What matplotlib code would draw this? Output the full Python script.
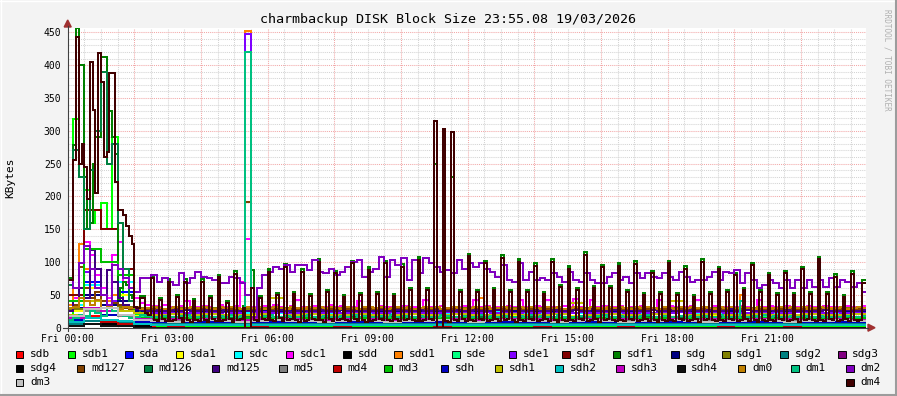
import numpy as np
import matplotlib
matplotlib.use("Agg")
import matplotlib.pyplot as plt
from matplotlib.patches import Rectangle, Polygon
from matplotlib.lines import Line2D

# ---- data (KBytes), 5-min steps (288), 10-min steps (144), 30-min steps (48) ----
dm4 = [72, 72, 255, 443, 250, 280, 245, 196, 405, 332, 205, 418,
       375, 260, 268, 388, 388, 222, 180, 180, 172, 155, 140, 128,
       32, 30, 45, 45, 22, 20, 75, 12, 10, 42, 14, 10,
       70, 10, 12, 47, 15, 9, 70, 11, 8, 40, 12, 10,
       70, 12, 9, 45, 14, 10, 77, 10, 12, 38, 13, 9,
       82, 11, 14, 30, 0, 0, 60, 12, 10, 45, 14, 11,
       85, 12, 10, 50, 15, 10, 93, 11, 13, 52, 12, 9,
       85, 10, 12, 48, 14, 11, 100, 12, 9, 55, 13, 10,
       83, 11, 14, 47, 12, 10, 98, 13, 10, 50, 11, 9,
       88, 10, 12, 52, 14, 11, 98, 12, 10, 48, 13, 10,
       93, 11, 13, 57, 12, 10, 103, 10, 12, 57, 14, 11,
       315, 0, 0, 303, 10, 8, 298, 12, 10, 55, 13, 10,
       109, 12, 10, 55, 14, 11, 98, 10, 12, 58, 13, 10,
       106, 11, 13, 55, 12, 9, 100, 12, 10, 55, 14, 11,
       94, 10, 12, 52, 13, 10, 100, 11, 9, 62, 12, 10,
       90, 12, 10, 57, 14, 11, 111, 10, 12, 60, 13, 9,
       92, 11, 13, 60, 12, 10, 94, 12, 10, 55, 14, 11,
       97, 10, 12, 50, 13, 10, 83, 11, 9, 52, 12, 10,
       98, 12, 10, 50, 14, 11, 90, 10, 12, 47, 13, 9,
       100, 11, 13, 52, 12, 10, 89, 12, 10, 55, 14, 11,
       80, 10, 12, 57, 13, 10, 95, 11, 9, 55, 12, 10,
       80, 12, 10, 50, 14, 11, 83, 10, 12, 50, 13, 9,
       89, 11, 13, 51, 12, 10, 104, 12, 10, 52, 14, 11,
       78, 10, 12, 47, 13, 10, 82, 11, 10, 12, 68, 68]

sdf1 = [75, 75, 278, 456, 400, 400, 230, 150, 160, 250, 290, 290,
        412, 412, 270, 330, 290, 265, 40, 60, 70, 65, 50, 45,
        28, 25, 48, 48, 20, 18, 79, 10, 8, 45, 12, 8,
        74, 8, 10, 50, 13, 7, 74, 9, 6, 43, 10, 8,
        74, 10, 7, 48, 12, 8, 81, 8, 10, 41, 11, 7,
        86, 9, 12, 33, 0, 0, 88, 10, 8, 48, 12, 9,
        89, 10, 8, 53, 13, 8, 97, 9, 11, 55, 10, 7,
        89, 8, 10, 51, 12, 9, 104, 10, 7, 58, 11, 8,
        87, 9, 12, 50, 10, 8, 102, 11, 8, 53, 9, 7,
        92, 8, 10, 55, 12, 9, 102, 10, 8, 51, 11, 8,
        97, 9, 11, 60, 10, 8, 107, 8, 10, 60, 12, 9,
        250, 0, 0, 240, 8, 6, 230, 10, 8, 58, 11, 8,
        113, 10, 8, 58, 12, 9, 102, 8, 10, 61, 11, 8,
        110, 9, 11, 58, 10, 7, 104, 10, 8, 58, 12, 9,
        98, 8, 10, 55, 11, 8, 104, 9, 7, 65, 10, 8,
        94, 10, 8, 60, 12, 9, 115, 8, 10, 63, 11, 7,
        96, 9, 11, 63, 10, 8, 98, 10, 8, 58, 12, 9,
        101, 8, 10, 53, 11, 8, 87, 9, 7, 55, 10, 8,
        102, 10, 8, 53, 12, 9, 94, 8, 10, 50, 11, 7,
        104, 9, 11, 55, 10, 8, 93, 10, 8, 58, 12, 9,
        84, 8, 10, 60, 11, 8, 99, 9, 7, 58, 10, 8,
        84, 10, 8, 53, 12, 9, 87, 8, 10, 53, 11, 7,
        93, 9, 11, 54, 10, 8, 108, 10, 8, 55, 12, 9,
        82, 8, 10, 50, 11, 8, 86, 9, 8, 10, 72, 72]

dm2 = [72, 60, 98, 125, 90, 60,
       50, 35, 95, 90, 75, 60,
       55, 75, 75, 80, 70, 75,
       70, 65, 83, 68, 75, 85,
       78, 75, 73, 68, 68, 78,
       75, 68, 50, 17, 60, 80,
       85, 93, 90, 95, 85, 95,
       95, 88, 103, 85, 83, 90,
       80, 85, 93, 100, 103, 78,
       85, 90, 108, 78, 103, 95,
       106, 73, 103, 83, 106, 98,
       93, 85, 88, 83, 103, 90,
       98, 93, 98, 90, 85, 78,
       95, 73, 70, 98, 73, 85,
       73, 75, 73, 83, 78, 70,
       85, 73, 70, 83, 73, 68,
       68, 78, 83, 73, 78, 68,
       83, 75, 83, 78, 75, 83,
       78, 73, 85, 78, 70, 73,
       73, 78, 85, 73, 85, 83,
       88, 68, 83, 73, 60, 65,
       73, 68, 60, 73, 60, 73,
       60, 73, 62, 73, 62, 75,
       62, 73, 70, 62, 68, 55]

dm1 = [12, 15, 20, 18, 25, 22,
       18, 30, 25, 20, 18, 15,
       17, 20, 18, 17, 16, 18,
       17, 16, 18, 19, 17, 16,
       18, 17, 16, 18, 17, 19,
       17, 18, 420, 16, 17, 18,
       19, 17, 16, 18, 17, 16,
       18, 19, 17, 16, 18, 17,
       16, 18, 17, 19, 16, 18,
       17, 16, 18, 17, 19, 17,
       18, 17, 16, 18, 17, 16,
       17, 19, 18, 16, 17, 18,
       16, 17, 19, 17, 18, 16,
       18, 16, 17, 18, 16, 19,
       17, 18, 16, 17, 19, 17,
       16, 17, 18, 16, 17, 18,
       19, 17, 16, 18, 17, 16,
       17, 18, 19, 17, 16, 18,
       16, 17, 18, 16, 18, 17,
       18, 16, 17, 19, 17, 16,
       17, 40, 16, 18, 17, 19,
       16, 18, 17, 16, 18, 17,
       18, 17, 16, 18, 17, 16,
       17, 16, 18, 17, 16, 18]

dm0 = [30, 32, 45, 40, 35, 42,
       30, 33, 30, 28, 32, 30,
       31, 29, 30, 31, 30, 29,
       30, 31, 29, 30, 32, 30,
       31, 30, 29, 31, 30, 32,
       30, 29, 31, 30, 31, 29,
       30, 32, 30, 29, 31, 30,
       29, 31, 30, 32, 30, 31,
       30, 29, 31, 30, 29, 31,
       32, 30, 31, 29, 30, 31,
       30, 31, 29, 30, 32, 30,
       31, 29, 30, 31, 30, 29,
       30, 32, 30, 31, 29, 30,
       31, 30, 29, 31, 30, 32,
       30, 29, 31, 30, 31, 29,
       30, 31, 30, 29, 32, 30,
       29, 31, 30, 31, 30, 29,
       31, 30, 32, 30, 29, 31,
       30, 29, 31, 30, 31, 30,
       32, 30, 29, 31, 30, 31,
       30, 31, 30, 29, 31, 30,
       29, 30, 31, 30, 32, 30,
       31, 29, 30, 31, 30, 29,
       30, 31, 29, 30, 31, 30]

sdc1 = [30, 45, 60, 130, 110, 80,
        60, 45, 110, 130, 70, 50,
        45, 38, 35, 33, 31, 34,
        31, 30, 33, 40, 31, 32,
        33, 31, 30, 34, 32, 31,
        33, 70, 135, 32, 30, 33,
        31, 34, 32, 30, 33, 42,
        32, 31, 33, 30, 32, 34,
        31, 33, 30, 32, 40, 31,
        32, 30, 33, 31, 32, 30,
        33, 31, 32, 30, 42, 32,
        31, 33, 30, 32, 31, 33,
        32, 42, 31, 33, 30, 32,
        31, 33, 32, 42, 31, 30,
        33, 31, 42, 32, 30, 33,
        31, 44, 32, 30, 42, 31,
        33, 32, 31, 33, 30, 32,
        31, 33, 32, 30, 42, 31,
        33, 31, 30, 32, 33, 42,
        32, 30, 33, 31, 32, 30,
        31, 33, 32, 30, 42, 31,
        33, 32, 31, 33, 30, 32,
        31, 33, 32, 30, 33, 31,
        32, 30, 33, 31, 32, 33]

md125 = [25, 40, 60, 45, 118, 90,
         50, 88, 70, 45, 35, 30,
         28, 27, 26, 25, 27, 26,
         25, 27, 26, 28, 25, 26,
         27, 25, 26, 24, 27, 26,
         25, 27, 26, 25, 26, 28,
         26, 25, 27, 26, 24, 26,
         27, 26, 25, 27, 26, 25,
         26, 28, 25, 26, 27, 25,
         25, 26, 27, 25, 26, 27,
         26, 25, 26, 28, 25, 26,
         27, 26, 25, 26, 27, 25,
         26, 27, 25, 26, 25, 27,
         25, 26, 28, 25, 26, 26,
         27, 25, 26, 27, 25, 26,
         26, 27, 25, 26, 28, 25,
         25, 26, 27, 25, 26, 27,
         26, 25, 26, 27, 25, 26,
         27, 26, 25, 26, 27, 25,
         26, 27, 26, 25, 26, 28,
         25, 26, 27, 26, 25, 26,
         27, 25, 26, 27, 26, 25,
         26, 27, 25, 26, 27, 26,
         25, 26, 27, 25, 26, 27]

md127 = [30, 35, 93, 60, 45, 55,
         40, 30, 38, 35, 30, 28,
         29, 28, 29, 28, 29, 28,
         28, 29, 28, 29, 28, 28,
         29, 28, 29, 28, 29, 28,
         28, 29, 192, 28, 29, 28,
         29, 28, 28, 29, 28, 29,
         28, 29, 28, 28, 29, 28,
         29, 28, 29, 28, 28, 29,
         28, 28, 29, 28, 29, 28,
         29, 28, 28, 29, 28, 29,
         28, 29, 28, 29, 28, 28,
         29, 28, 29, 28, 29, 28,
         28, 29, 28, 28, 29, 28,
         29, 28, 29, 28, 28, 29,
         28, 28, 29, 28, 29, 28,
         29, 28, 28, 29, 28, 29,
         28, 29, 28, 29, 28, 28,
         29, 28, 29, 28, 29, 28,
         28, 29, 28, 28, 29, 28,
         29, 28, 29, 28, 28, 29,
         28, 28, 29, 28, 29, 28,
         29, 28, 28, 29, 28, 29,
         28, 29, 28, 29, 28, 28]

sde1 = [25, 40, 60, 85, 50, 40,
        30, 35, 40, 30, 25, 25,
        23, 22, 24, 23, 22, 23,
        22, 23, 24, 22, 23, 22,
        24, 23, 22, 23, 24, 22,
        23, 22, 448, 23, 22, 24,
        22, 23, 24, 22, 23, 22,
        23, 24, 22, 23, 22, 24,
        22, 23, 22, 24, 23, 22,
        24, 22, 23, 22, 24, 23,
        22, 24, 23, 22, 23, 22,
        23, 22, 24, 23, 22, 24,
        22, 23, 22, 24, 23, 22,
        24, 22, 23, 22, 24, 23,
        23, 24, 22, 23, 22, 24,
        22, 23, 24, 22, 23, 22,
        24, 22, 23, 24, 22, 23,
        22, 24, 22, 23, 24, 22,
        23, 22, 24, 22, 23, 24,
        22, 23, 22, 24, 22, 23,
        24, 22, 23, 22, 24, 22,
        23, 24, 22, 23, 22, 24,
        22, 23, 24, 22, 23, 22,
        24, 22, 23, 24, 22, 23]

sdd1 = [35, 60, 128, 90, 45, 40,
        35, 40, 50, 35, 30, 32,
        30, 29, 30, 29, 30, 29,
        29, 30, 29, 30, 29, 30,
        30, 29, 30, 29, 30, 29,
        30, 29, 452, 30, 29, 30,
        29, 30, 29, 30, 29, 30,
        30, 29, 30, 29, 30, 29,
        29, 30, 29, 30, 29, 30,
        30, 29, 30, 29, 30, 29,
        29, 30, 29, 30, 29, 30,
        30, 29, 30, 29, 30, 29,
        30, 29, 45, 30, 29, 30,
        29, 30, 29, 30, 29, 30,
        30, 29, 30, 29, 30, 29,
        29, 30, 29, 30, 29, 30,
        30, 29, 30, 29, 30, 29,
        29, 30, 29, 30, 29, 30,
        30, 29, 30, 29, 30, 29,
        29, 30, 29, 30, 29, 30,
        29, 50, 30, 29, 30, 29,
        30, 29, 30, 29, 30, 29,
        29, 30, 29, 30, 29, 30,
        30, 29, 30, 29, 30, 29]

md126 = [65, 270, 230, 150, 240, 300,
         390, 250, 280, 160, 90, 40,
         30, 20, 16, 15, 16, 15,
         16, 15, 16, 15, 15, 16,
         15, 16, 15, 16, 15, 15,
         16, 15, 16, 15, 16, 15,
         15, 16, 15, 16, 15, 16,
         16, 15, 16, 15, 15, 16,
         15, 16, 15, 16, 15, 15,
         16, 15, 16, 15, 16, 15,
         15, 16, 15, 15, 16, 15,
         16, 15, 16, 15, 15, 16,
         15, 15, 16, 15, 16, 15,
         16, 15, 15, 16, 15, 16,
         15, 16, 15, 16, 15, 15,
         16, 15, 16, 15, 16, 15,
         15, 16, 15, 15, 16, 15,
         16, 15, 16, 15, 15, 16,
         15, 15, 16, 15, 16, 15,
         16, 15, 15, 16, 15, 16,
         15, 16, 15, 16, 15, 15,
         16, 15, 16, 15, 16, 15,
         15, 16, 15, 15, 16, 15,
         16, 15, 16, 15, 15, 16]

sdb1 = [20, 318, 250, 210, 160, 180,
        190, 150, 290, 60, 30, 25,
        20, 15, 12, 5, 3, 2,
        1, 2, 1, 1, 2, 1,
        1, 1, 2, 1, 1, 2,
        1, 2, 1, 1, 2, 1,
        2, 1, 1, 2, 1, 1,
        1, 2, 1, 1, 2, 1,
        1, 1, 2, 1, 1, 2,
        2, 1, 1, 2, 1, 1,
        1, 2, 1, 1, 2, 1,
        1, 1, 2, 1, 1, 2,
        2, 1, 1, 2, 1, 1,
        1, 2, 1, 1, 2, 1,
        1, 1, 2, 1, 1, 2,
        2, 1, 1, 2, 1, 1,
        1, 2, 1, 1, 2, 1,
        1, 1, 2, 1, 1, 2,
        2, 1, 1, 2, 1, 1,
        1, 2, 1, 1, 2, 1,
        1, 1, 2, 1, 1, 2,
        2, 1, 1, 2, 1, 1,
        1, 2, 1, 1, 2, 1,
        1, 1, 2, 1, 1, 2]

sdb = [5, 18, 10, 8, 3, 1, 0, 1,
       0, 0, 1, 0, 0, 1, 0, 0,
       1, 0, 0, 0, 1, 0, 0, 1,
       0, 0, 1, 0, 0, 0, 1, 0,
       0, 1, 0, 0, 0, 1, 0, 0,
       1, 0, 0, 0, 1, 0, 0, 1]
sda = [30, 70, 40, 55, 15, 9, 8, 9,
       10, 8, 9, 8, 10, 9, 8, 9,
       10, 8, 9, 9, 8, 10, 9, 8,
       9, 10, 8, 9, 8, 10, 9, 8,
       9, 10, 8, 9, 9, 8, 10, 9,
       8, 9, 10, 8, 9, 8, 10, 9]
sda1 = [25, 60, 35, 50, 18, 17, 16, 18,
        17, 16, 17, 18, 16, 17, 17, 18,
        16, 17, 18, 17, 16, 17, 18, 16,
        17, 17, 18, 16, 17, 16, 18, 17,
        16, 17, 18, 17, 16, 17, 18, 16,
        17, 17, 18, 16, 17, 16, 18, 17]
sdc = [35, 65, 40, 70, 25, 22, 23, 21,
       22, 24, 22, 21, 23, 22, 24, 21,
       22, 23, 22, 21, 24, 22, 23, 21,
       22, 24, 22, 23, 21, 22, 23, 24,
       22, 21, 23, 22, 24, 22, 21, 23,
       22, 21, 23, 24, 22, 21, 23, 22]
sdd = [3, 10, 6, 5, 2, 0, 0, 0,
       0, 0, 0, 0, 0, 0, 0, 0,
       0, 0, 0, 0, 0, 0, 0, 0,
       0, 0, 0, 0, 0, 0, 0, 0,
       0, 0, 0, 0, 0, 0, 0, 0,
       0, 0, 0, 0, 0, 0, 0, 0]
sde = [30, 40, 25, 30, 16, 16, 15, 16,
       15, 16, 16, 15, 16, 15, 16, 16,
       15, 16, 15, 16, 16, 15, 16, 15,
       16, 16, 15, 16, 15, 16, 15, 16,
       16, 15, 16, 15, 16, 16, 15, 16,
       15, 16, 16, 15, 16, 15, 16, 16]
sdf = [50, 180, 150, 90, 12, 10, 11, 10,
       11, 10, 10, 11, 10, 11, 10, 10,
       11, 10, 11, 10, 10, 11, 10, 11,
       10, 10, 11, 10, 11, 10, 10, 11,
       10, 11, 10, 10, 11, 10, 11, 10,
       10, 11, 10, 11, 10, 10, 11, 10]
sdg = [30, 50, 35, 40, 26, 25, 26, 27,
       25, 26, 25, 27, 26, 25, 26, 25,
       27, 26, 25, 26, 27, 25, 26, 25,
       26, 27, 25, 26, 25, 26, 27, 25,
       26, 25, 26, 27, 25, 26, 25, 26,
       27, 25, 26, 25, 26, 27, 25, 26]
sdg1 = [28, 40, 30, 32, 30, 29, 30, 29,
        30, 29, 29, 30, 29, 30, 29, 29,
        30, 29, 30, 29, 29, 30, 29, 30,
        29, 29, 30, 29, 30, 29, 29, 30,
        29, 30, 29, 29, 30, 29, 30, 29,
        29, 30, 29, 30, 29, 29, 30, 29]
sdg2 = [6, 10, 8, 7, 5, 5, 5, 5,
        5, 5, 5, 5, 5, 5, 5, 5,
        5, 5, 5, 5, 5, 5, 5, 5,
        5, 5, 5, 5, 5, 5, 5, 5,
        5, 5, 5, 5, 5, 5, 5, 5,
        5, 5, 5, 5, 5, 5, 5, 5]
sdg3 = [15, 25, 20, 18, 12, 12, 13, 12,
        12, 13, 12, 12, 13, 12, 12, 13,
        12, 12, 13, 12, 12, 13, 12, 12,
        13, 12, 12, 13, 12, 12, 13, 12,
        12, 13, 12, 12, 13, 12, 12, 13,
        12, 12, 13, 12, 12, 13, 12, 12]
sdg4 = [2, 5, 3, 2, 0, 0, 0, 0,
        0, 0, 0, 0, 0, 0, 0, 0,
        0, 0, 0, 0, 0, 0, 0, 0,
        0, 0, 0, 0, 0, 0, 0, 0,
        0, 0, 0, 0, 0, 0, 0, 0,
        0, 0, 0, 0, 0, 0, 0, 0]
md5 = [15, 25, 20, 18, 10, 10, 11, 10,
       10, 11, 10, 10, 11, 10, 10, 11,
       10, 10, 11, 10, 10, 11, 10, 10,
       11, 10, 10, 11, 10, 10, 11, 10,
       10, 11, 10, 10, 11, 10, 10, 11,
       10, 10, 11, 10, 10, 11, 10, 10]
md4 = [3, 15, 8, 5, 0, 0, 2, 0,
       0, 0, 0, 2, 0, 0, 0, 0,
       2, 0, 0, 0, 0, 0, 2, 0,
       0, 0, 0, 0, 2, 0, 0, 0,
       0, 2, 0, 0, 0, 0, 0, 2,
       0, 0, 0, 2, 0, 0, 0, 0]
md3 = [40, 120, 100, 80, 15, 15, 14, 15,
       15, 14, 15, 15, 14, 15, 15, 14,
       15, 15, 14, 15, 15, 14, 15, 15,
       14, 15, 15, 14, 15, 15, 14, 15,
       15, 14, 15, 15, 14, 15, 15, 14,
       15, 15, 14, 15, 15, 14, 15, 15]
sdh = [12, 30, 20, 25, 8, 8, 9, 8,
       8, 9, 8, 8, 9, 8, 8, 9,
       8, 8, 9, 8, 8, 9, 8, 8,
       9, 8, 8, 9, 8, 8, 9, 8,
       8, 9, 8, 8, 9, 8, 8, 9,
       8, 8, 9, 8, 8, 9, 8, 8]
sdh1 = [20, 40, 30, 25, 22, 20, 21, 20,
        21, 20, 20, 21, 45, 20, 21, 20,
        20, 21, 20, 20, 21, 20, 20, 21,
        20, 20, 21, 20, 20, 21, 38, 20,
        21, 20, 20, 21, 40, 20, 21, 20,
        20, 21, 20, 20, 21, 20, 20, 21]
sdh2 = [8, 15, 12, 10, 5, 4, 4, 4,
        4, 4, 4, 4, 4, 4, 4, 4,
        4, 4, 4, 4, 4, 4, 4, 4,
        4, 4, 4, 4, 4, 4, 4, 4,
        4, 4, 4, 4, 4, 4, 4, 4,
        4, 4, 4, 4, 4, 4, 4, 4]
sdh3 = [15, 30, 25, 20, 13, 12, 13, 12,
        13, 12, 12, 13, 12, 13, 12, 12,
        13, 12, 13, 12, 12, 13, 12, 13,
        12, 12, 13, 12, 13, 12, 12, 13,
        12, 13, 12, 12, 13, 12, 13, 12,
        12, 13, 12, 13, 12, 12, 13, 12]
sdh4 = [2, 5, 3, 2, 0, 0, 0, 0,
        0, 0, 0, 0, 0, 0, 0, 0,
        0, 0, 0, 0, 0, 0, 0, 0,
        0, 0, 0, 0, 0, 0, 0, 0,
        0, 0, 0, 0, 0, 0, 0, 0,
        0, 0, 0, 0, 0, 0, 0, 0]
dm3 = [18, 28, 30, 20, 12, 10, 9, 10,
       11, 10, 9, 10, 11, 10, 10, 9,
       10, 11, 10, 9, 10, 10, 11, 10,
       9, 10, 11, 10, 10, 9, 10, 11,
       10, 9, 10, 10, 11, 10, 9, 10,
       10, 11, 10, 9, 10, 10, 11, 10]

labels = ["sdb", "sdb1", "sda", "sda1", "sdc", "sdc1", "sdd", "sdd1",
          "sde", "sde1", "sdf", "sdf1", "sdg", "sdg1", "sdg2", "sdg3",
          "sdg4", "md127", "md126", "md125", "md5", "md4", "md3", "sdh",
          "sdh1", "sdh2", "sdh3", "sdh4", "dm0", "dm1", "dm2", "dm3", "dm4"]
values = [sdb, sdb1, sda, sda1, sdc, sdc1, sdd, sdd1,
          sde, sde1, sdf, sdf1, sdg, sdg1, sdg2, sdg3,
          sdg4, md127, md126, md125, md5, md4, md3, sdh,
          sdh1, sdh2, sdh3, sdh4, dm0, dm1, dm2, dm3, dm4]
colors = ["#FF0000", "#00FF00", "#0000FF", "#FFFF00", "#00FFFF", "#FF00FF", "#000000", "#FF8000",
          "#00FF80", "#8000FF", "#800000", "#008000", "#000080", "#808000", "#008080", "#800080",
          "#000000", "#804000", "#008040", "#400080", "#808080", "#C00000", "#00C000", "#0000C0",
          "#C0C000", "#00C0C0", "#C000C0", "#101010", "#C08000", "#00C080", "#8000C0", "#C0C0C0",
          "#400000"]

# legend layout (pixel x of box, row)
leg_x = [15.7, 67.7, 125, 175.7, 234.3, 285.7, 343.3, 394.3, 452, 508.7, 562, 612.7, 671.3, 722, 780.3, 838,
         15.7, 76.7, 144.3, 211.7, 279.3, 333.3, 384.3, 440.7, 494.7, 555.3, 616.3, 677, 737.7, 791.3, 846,
         15.7, 846]
leg_row = [0] * 16 + [1] * 15 + [2] * 2
row_y = [354.3, 368.3, 382.3]

plt.rcParams['font.family'] = 'DejaVu Sans Mono'

W, H = 897, 396
fig = plt.figure(figsize=(W / 100, H / 100), dpi=100)
fig.patch.set_facecolor('#f3f3f3')


def fx(x):
    return x / W


def fy(y):
    return 1 - y / H


x0, x1, y0, y1 = 67.7, 866.0, 327.7, 28.0
ax = fig.add_axes([fx(x0), fy(y0), (x1 - x0) / W, (y0 - y1) / H])
ax.set_facecolor('white')
ax.set_xlim(0, 23.95)
ax.set_ylim(0, 456.6)
for s in ax.spines.values():
    s.set_visible(False)

# grid: minor every 30 min / 10 KB, major every 2 h / 50 KB
for h in np.arange(0.5, 24, 0.5):
    major = abs(h / 2 - round(h / 2)) < 1e-6
    ax.axvline(h, color='#f2a8a8' if major else '#d4d4d4', lw=0.75, ls=(0, (1, 1)), zorder=0)
for v in range(10, 460, 10):
    major = v % 50 == 0
    ax.axhline(v, color='#f2a8a8' if major else '#d4d4d4', lw=0.75, ls=(0, (1, 1)), zorder=0)

for name, col, vals in zip(labels, colors, values):
    v = np.asarray(vals, dtype=float)
    step = 24.0 / len(v)
    t = np.arange(len(v) + 1) * step
    ax.plot(t, np.append(v, v[-1]), drawstyle='steps-post', color=col, lw=1.44,
            antialiased=False, zorder=2)

ax.set_xticks(np.arange(0, 24, 3))
ax.set_xticklabels(["Fri %02d:00" % h for h in range(0, 24, 3)])
ax.set_yticks(np.arange(0, 451, 50))
ax.tick_params(axis='both', length=0, labelsize=7, colors='#000000')
ax.tick_params(axis='x', pad=4.5)
ax.tick_params(axis='y', pad=4.5)

# axes with arrows
fig.add_artist(Line2D([fx(63), fx(868)], [fy(y0), fy(y0)], color='#404040', lw=0.8))
fig.add_artist(Line2D([fx(x0), fx(x0)], [fy(331), fy(26)], color='#404040', lw=0.8))
fig.add_artist(Polygon([(fx(868), fy(y0 - 3.5)), (fx(875), fy(y0)), (fx(868), fy(y0 + 3.5))],
                       closed=True, color='#a03030'))
fig.add_artist(Polygon([(fx(x0 - 3.5), fy(27)), (fx(x0), fy(20)), (fx(x0 + 3.5), fy(27))],
                       closed=True, color='#a03030'))

fig.text(fx(448), fy(19), "charmbackup DISK Block Size 23:55.08 19/03/2026",
         ha='center', va='center', fontsize=9.6, color='#000000')
fig.text(fx(10.5), fy(178), "KBytes", rotation=90, ha='center', va='center', fontsize=8)
fig.text(fx(887), fy(60), "RRDTOOL / TOBI OETIKER", rotation=270, ha='center', va='center',
         fontsize=5.5, color='#b0b0b0')

# legend
for name, col, lx, r in zip(labels, colors, leg_x, leg_row):
    yc = row_y[r]
    fig.add_artist(Rectangle((fx(lx), fy(yc + 3.8)), 7.6 / W, 7.6 / H, facecolor=col,
                             edgecolor='#000000', lw=0.7))
    fig.text(fx(lx + 14.3), fy(yc), name, ha='left', va='center', fontsize=8, color='#000000')

# frame
fig.add_artist(Line2D([0, 1], [fy(0.5), fy(0.5)], color='#ffffff', lw=1.0))
fig.add_artist(Line2D([fx(0.5), fx(0.5)], [0, 1], color='#ffffff', lw=1.0))
fig.add_artist(Line2D([0, 1], [fy(395), fy(395)], color='#9c9c9c', lw=1.5))
fig.add_artist(Line2D([fx(896), fx(896)], [0, 1], color='#9c9c9c', lw=1.5))

fig.savefig('out.png', dpi=100, facecolor=fig.get_facecolor())
